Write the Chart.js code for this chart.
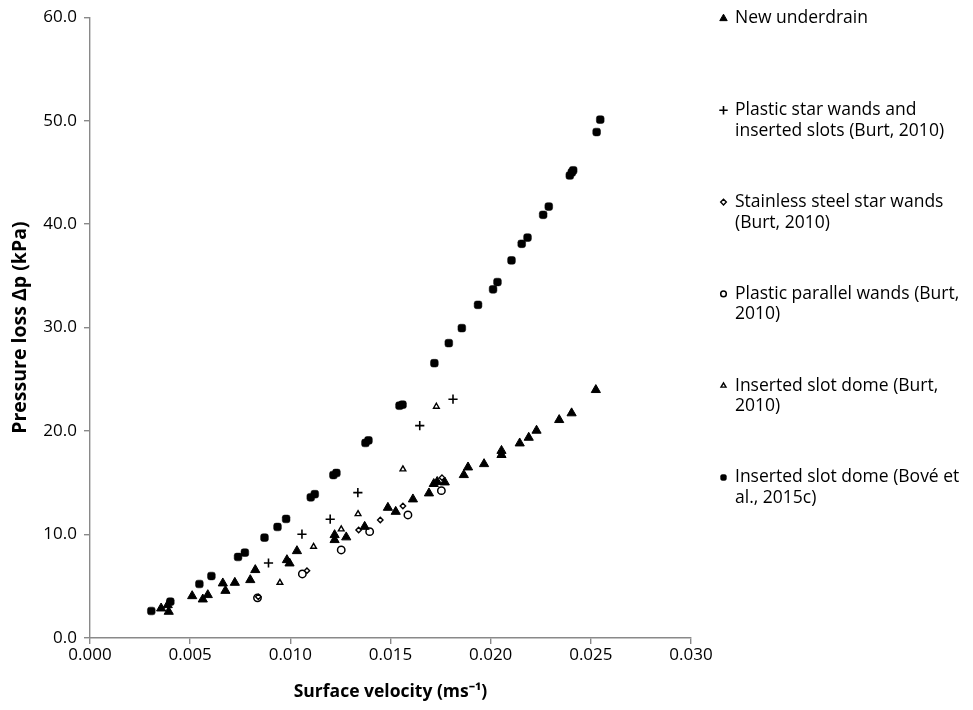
<!DOCTYPE html>
<html>
<head>
<meta charset="utf-8">
<script src="https://cdn.jsdelivr.net/npm/chart.js@4/dist/chart.umd.min.js"></script>
<style>
  html, body { margin: 0; padding: 0; background: #ffffff; }
  #wrap { width: 973px; height: 710px; position: relative; }
</style>
</head>
<body>
<div id="wrap"><canvas id="chart"></canvas></div>
<script>
// Surface velocity (m/s) and pressure loss (kPa) for each underdrain design
const underdrainV = [0.00355, 0.00388, 0.00393, 0.0051, 0.00563, 0.00588, 0.00663, 0.00676, 0.00723, 0.0080, 0.00825,
  0.00983, 0.00996, 0.01033, 0.01221, 0.01221, 0.01279, 0.01371, 0.01487, 0.01526, 0.01612, 0.01692, 0.01716, 0.01733,
  0.01771, 0.01866, 0.01887, 0.01967, 0.02054, 0.02054, 0.02145, 0.0219, 0.02229, 0.02342, 0.02404, 0.02525];
const underdrainDp = [2.87, 3.19, 2.55, 4.06, 3.74, 4.16, 5.29, 4.57, 5.35, 5.61, 6.58,
  7.54, 7.22, 8.41, 9.96, 9.48, 9.74, 10.76, 12.6, 12.21, 13.41, 13.99, 14.9, 15.1,
  15.05, 15.76, 16.5, 16.82, 17.7, 18.1, 18.82, 19.37, 20.05, 21.08, 21.73, 23.98];

const starWandsV = [0.00891, 0.01058, 0.01199, 0.01337, 0.01646, 0.01812];
const starWandsDp = [7.25, 10.03, 11.48, 14.05, 20.53, 23.08];

const steelWandsV = [0.00840, 0.01083, 0.01341, 0.01449, 0.01562, 0.01757];
const steelWandsDp = [3.98, 6.51, 10.44, 11.41, 12.76, 15.5];

const parallelWandsV = [0.00836, 0.0106, 0.01254, 0.01396, 0.01587, 0.01754];
const parallelWandsDp = [3.88, 6.19, 8.51, 10.28, 11.89, 14.24];

const slotDomeBurtV = [0.00948, 0.01116, 0.01254, 0.01338, 0.01562, 0.01729];
const slotDomeBurtDp = [5.35, 8.83, 10.51, 11.99, 16.31, 22.37];

const slotDomeBoveV = [0.00306, 0.00401, 0.00546, 0.00606, 0.00739, 0.00773, 0.00871, 0.00936, 0.00979, 0.01102, 0.01122,
  0.01215, 0.0123, 0.01375, 0.0139, 0.01545, 0.0156, 0.01719, 0.01791, 0.01856, 0.01937, 0.02012, 0.02034, 0.02104,
  0.02155, 0.02184, 0.02262, 0.0229, 0.02395, 0.02405, 0.02412, 0.02529, 0.02547];
const slotDomeBoveDp = [2.61, 3.51, 5.22, 5.99, 7.83, 8.25, 9.70, 10.73, 11.51, 13.6, 13.9,
  15.75, 15.95, 18.85, 19.1, 22.45, 22.55, 26.56, 28.5, 29.95, 32.2, 33.7, 34.4, 36.5,
  38.1, 38.7, 40.9, 41.7, 44.7, 45.0, 45.2, 48.9, 50.1];

const seriesLabels = [
  ['New underdrain'],
  ['Plastic star wands and', 'inserted slots (Burt, 2010)'],
  ['Stainless steel star wands', '(Burt, 2010)'],
  ['Plastic parallel wands (Burt,', '2010)'],
  ['Inserted slot dome (Burt,', '2010)'],
  ['Inserted slot dome (Bové et', 'al., 2015c)']
];

const xTickLabels = ['0.000', '0.005', '0.010', '0.015', '0.020', '0.025', '0.030'];
const yTickLabels = ['0.0', '10.0', '20.0', '30.0', '40.0', '50.0', '60.0'];

const xTitle = 'Surface velocity (ms\u207B\u00B9)';
const yTitle = 'Pressure loss \u0394p (kPa)';

const toPoints = (xs, ys) => xs.map((x, i) => ({ x: x, y: ys[i] }));

const FONT = "'Open Sans', 'Liberation Sans', sans-serif";
const AXIS_GREY = '#898989';

const datasets = [
  { label: seriesLabels[0].join(' '), data: toPoints(underdrainV, underdrainDp),
    pointStyle: 'triangle', pointRadius: 5.3, backgroundColor: '#000', borderColor: '#000', borderWidth: 1,
    legendRadius: 4.3 },
  { label: seriesLabels[1].join(' '), data: toPoints(starWandsV, starWandsDp),
    pointStyle: 'cross', pointRadius: 4.6, backgroundColor: '#000', borderColor: '#000', borderWidth: 1.6,
    legendRadius: 4.2 },
  { label: seriesLabels[2].join(' '), data: toPoints(steelWandsV, steelWandsDp),
    pointStyle: 'rectRot', pointRadius: 2.7, backgroundColor: '#fff', borderColor: '#000', borderWidth: 1.4,
    legendRadius: 2.8 },
  { label: seriesLabels[3].join(' '), data: toPoints(parallelWandsV, parallelWandsDp),
    pointStyle: 'circle', pointRadius: 3.7, backgroundColor: '#fff', borderColor: '#000', borderWidth: 1.5,
    legendRadius: 2.8 },
  { label: seriesLabels[4].join(' '), data: toPoints(slotDomeBurtV, slotDomeBurtDp),
    pointStyle: 'triangle', pointRadius: 3.3, backgroundColor: '#fff', borderColor: '#000', borderWidth: 1.4,
    legendRadius: 2.9 },
  { label: seriesLabels[5].join(' '), data: toPoints(slotDomeBoveV, slotDomeBoveDp),
    pointStyle: 'rectRounded', pointRadius: 4.5, backgroundColor: '#000', borderColor: '#000', borderWidth: 0.5,
    legendRadius: 3.4 }
];

// Legend drawn at the right of the plot, one block of wrapped text per series
const sideLegend = {
  id: 'sideLegend',
  afterDraw(chart) {
    const ctx = chart.ctx;
    const firstY = 18.5, step = 91.8, lineGap = 20.6, textX = 735, markerX = 723.5;
    ctx.save();
    ctx.font = "17.5px " + FONT;
    ctx.textBaseline = 'middle';
    ctx.textAlign = 'left';
    chart.data.datasets.forEach((ds, i) => {
      const y = firstY + i * step;
      ctx.fillStyle = ds.backgroundColor;
      ctx.strokeStyle = ds.borderColor;
      ctx.lineWidth = ds.borderWidth;
      Chart.helpers.drawPoint(ctx, {
        pointStyle: ds.pointStyle, rotation: 0, radius: ds.legendRadius, borderWidth: ds.borderWidth
      }, markerX, y);
      ctx.fillStyle = '#000';
      seriesLabels[i].forEach((line, j) => ctx.fillText(line, textX, y + j * lineGap));
    });
    ctx.restore();
  }
};

new Chart(document.getElementById('chart'), {
  type: 'scatter',
  data: { datasets: datasets },
  plugins: [sideLegend],
  options: {
    responsive: true,
    maintainAspectRatio: false,
    animation: false,
    devicePixelRatio: 1,
    layout: { padding: { left: 0, right: 282, top: 17, bottom: 0 } },
    plugins: { legend: { display: false }, tooltip: { enabled: false } },
    elements: { point: { hoverRadius: 0 } },
    scales: {
      x: {
        type: 'linear', min: 0, max: 0.03,
        afterFit: s => { s.height = 72; },
        border: { display: true, color: AXIS_GREY, width: 1.4 },
        grid: { display: true, drawOnChartArea: false, drawTicks: true, tickLength: 6, tickColor: AXIS_GREY, lineWidth: 1.4 },
        ticks: {
          stepSize: 0.005, padding: 1, color: '#000',
          font: { family: FONT, size: 17 },
          callback: (v, i) => xTickLabels[i]
        },
        title: { display: true, text: xTitle, color: '#000', padding: { top: 0, bottom: 7.5 },
          font: { family: FONT, size: 17.5, weight: 'bold' } }
      },
      y: {
        type: 'linear', min: 0, max: 60,
        afterFit: s => { s.width = 90; },
        border: { display: true, color: AXIS_GREY, width: 1.4 },
        grid: { display: true, drawOnChartArea: false, drawTicks: true, tickLength: 6, tickColor: AXIS_GREY, lineWidth: 1.4 },
        ticks: {
          stepSize: 10, padding: 7, color: '#000',
          font: { family: FONT, size: 17 },
          callback: (v, i) => yTickLabels[i]
        },
        title: { display: true, text: yTitle, color: '#000', padding: { top: 8.5, bottom: 0 },
          font: { family: FONT, size: 19.5, weight: 'bold' } }
      }
    }
  }
});
</script>
</body>
</html>
